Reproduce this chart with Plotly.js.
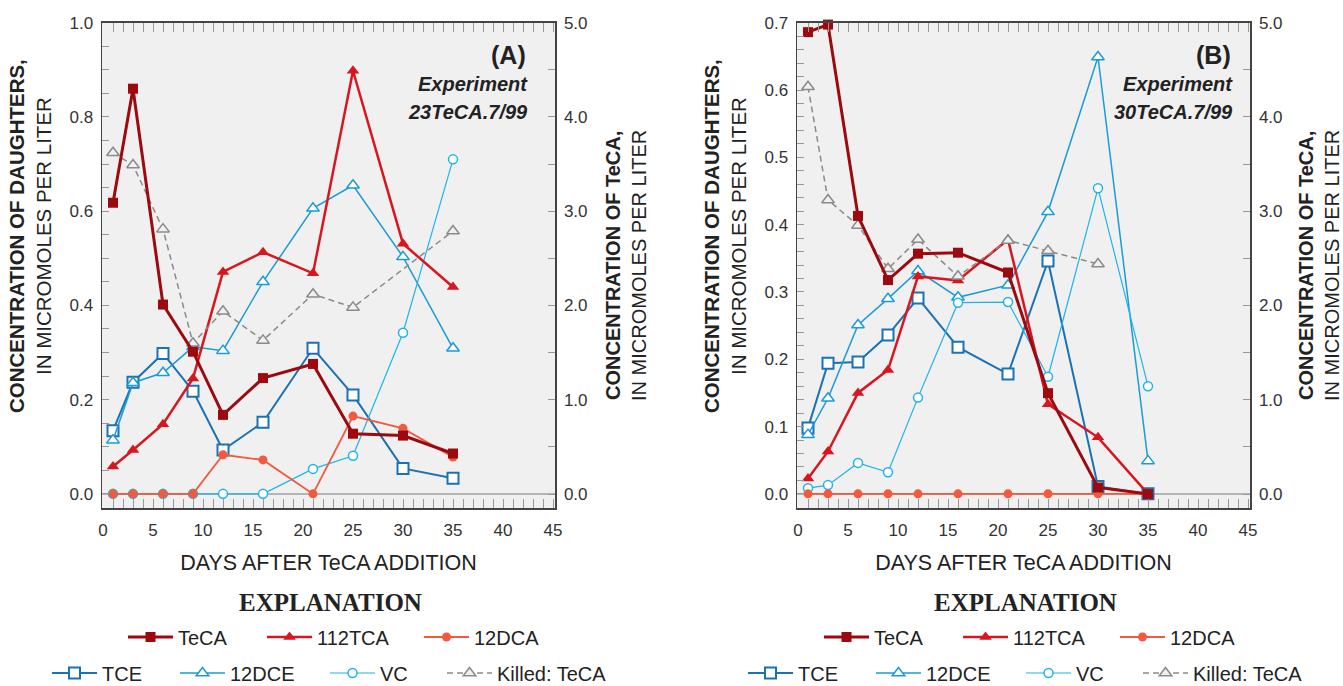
<!DOCTYPE html>
<html>
<head>
<meta charset="utf-8">
<script src="https://cdn.plot.ly/plotly-3.0.1.min.js"></script>
<style>
html,body{margin:0;padding:0;background:#fff;}
#chart{width:1343px;height:686px;}
</style>
</head>
<body>
<div id="chart"></div>
<script>
// ---------- DATA ----------
const days = [1, 3, 6, 9, 12, 16, 21, 25, 30, 35];

// Panel A: Experiment 23TeCA.7/99
const A_TeCA   = [3.09, 4.30, 2.01, 1.51, 0.84, 1.23, 1.38, 0.64, 0.62, 0.43];   // right axis
const A_112TCA = [0.058, 0.093, 0.148, 0.245, 0.471, 0.513, 0.468, 0.898, 0.531, 0.439];
const A_12DCA  = [0, 0, 0, 0, 0.083, 0.072, 0, 0.165, 0.139, 0.078];
const A_TCE    = [0.134, 0.237, 0.298, 0.218, 0.093, 0.152, 0.309, 0.210, 0.054, 0.033];
const A_12DCE  = [0.114, 0.236, 0.257, 0.312, 0.304, 0.450, 0.606, 0.655, 0.503, 0.309];
const A_VC     = [0, 0, 0, 0, 0, 0, 0.053, 0.081, 0.342, 0.710];
const A_Killed = [3.62, 3.49, 2.81, 1.60, 1.94, 1.63, 2.12, 1.98, null, 2.79];   // right axis

// Panel B: Experiment 30TeCA.7/99
const B_TeCA   = [4.90, 4.98, 2.95, 2.27, 2.55, 2.56, 2.35, 1.07, 0.07, 0.0];   // right axis
const B_112TCA = [0.023, 0.063, 0.150, 0.184, 0.323, 0.317, 0.378, 0.133, 0.084, 0.0];
const B_12DCA  = [0, 0, 0, 0, 0, 0, 0, 0, 0, 0];
const B_TCE    = [0.098, 0.194, 0.196, 0.236, 0.291, 0.218, 0.178, 0.346, 0.011, 0.0];
const B_12DCE  = [0.088, 0.142, 0.251, 0.290, 0.331, 0.292, 0.310, 0.419, 0.649, 0.049];
const B_VC     = [0.0085, 0.013, 0.046, 0.032, 0.143, 0.284, 0.285, 0.174, 0.454, 0.160];
const B_Killed = [4.32, 3.12, 2.85, 2.39, 2.70, 2.31, 2.69, 2.58, 2.44, null];   // right axis

const seriesNames = ['TeCA', '112TCA', '12DCA', 'TCE', '12DCE', 'VC', 'Killed: TeCA'];
const xTickVals = [0, 5, 10, 15, 20, 25, 30, 35, 40, 45];

// ---------- STYLES ----------
const FONT = 'Liberation Sans, Arial, Helvetica, sans-serif';
const C = {
  TeCA: '#9c0a10', TCA: '#d8161f', DCA: '#f15a3e',
  TCE: '#1a72b5', DCE: '#1a9bd6', VC: '#1db4ea', K: '#8a8a8a'
};
const W = 1343, H = 686;
const px = v => v / W, py = v => 1 - v / H;

// legend entry placement (x where the label text starts, row centre) per series, panel A; panel B is shifted
const legendSlots = [[178, 637], [317, 637], [474, 637], [102, 673], [230, 673], [380, 673], [497, 673]];
const PANEL_B_SHIFT = 696;
const LEG_ITEMWIDTH = 45;
const LEG_TEXTGAP = LEG_ITEMWIDTH + 10;

function mk(panel, idx, y, yax, opts) {
  const isA = panel === 'A';
  const n = (isA ? 0 : 7) + idx + 1;
  return Object.assign({
    type: 'scatter', mode: 'lines+markers', name: seriesNames[idx], x: days, y: y,
    xaxis: isA ? 'x' : 'x2', yaxis: yax, connectgaps: true, cliponaxis: false,
    legend: n === 1 ? 'legend' : 'legend' + n
  }, opts);
}

function panelTraces(panel, d) {
  const isA = panel === 'A';
  const yL = isA ? 'y' : 'y3', yR = isA ? 'y2' : 'y4';
  return [
    mk(panel, 6, d.K, yR, {
      line: {color: C.K, width: 1.5, dash: '6px,4px'},
      marker: {symbol: 'triangle-up', size: 11, color: '#f0f0f0', line: {color: C.K, width: 1.5}}}),
    mk(panel, 3, d.TCE, yL, {
      line: {color: C.TCE, width: 2},
      marker: {symbol: 'square', size: 11, color: '#ffffff', line: {color: C.TCE, width: 2}}}),
    mk(panel, 4, d.DCE, yL, {
      line: {color: C.DCE, width: 1.5},
      marker: {symbol: 'triangle-up', size: 11, color: '#ffffff', line: {color: C.DCE, width: 1.5}}}),
    mk(panel, 5, d.VC, yL, {
      line: {color: C.VC, width: 1.2},
      marker: {symbol: 'circle', size: 9, color: '#ffffff', line: {color: C.VC, width: 1.5}}}),
    mk(panel, 2, d.DCA, yL, {
      line: {color: C.DCA, width: 1.8},
      marker: {symbol: 'circle', size: 9, color: C.DCA}}),
    mk(panel, 1, d.TCA, yL, {
      line: {color: C.TCA, width: 2.5},
      marker: {symbol: 'triangle-up', size: 11, color: C.TCA}}),
    mk(panel, 0, d.TeCA, yR, {
      line: {color: C.TeCA, width: 3},
      marker: {symbol: 'square', size: 10, color: C.TeCA}})
  ];
}

const traces = [].concat(
  panelTraces('A', {TeCA: A_TeCA, TCA: A_112TCA, DCA: A_12DCA, TCE: A_TCE, DCE: A_12DCE, VC: A_VC, K: A_Killed}),
  panelTraces('B', {TeCA: B_TeCA, TCA: B_112TCA, DCA: B_12DCA, TCE: B_TCE, DCE: B_12DCE, VC: B_VC, K: B_Killed})
);

// ---------- LAYOUT ----------
const domY = [py(508), py(22.7)];
const domA = [px(102), px(555)];
const domB = [px(797), px(1250)];

function xAxis(domain, anchor) {
  return {
    domain: domain, anchor: anchor, range: [-0.1, 45.2],
    tickvals: xTickVals, ticks: 'inside', ticklen: 9, tickwidth: 1, tickcolor: '#999',
    minor: {dtick: 1, tick0: 0, ticks: 'inside', ticklen: 5, tickcolor: '#999', tickwidth: 1},
    showline: true, linecolor: '#444', linewidth: 1.5, mirror: 'allticks',
    showgrid: false, zeroline: false, automargin: false,
    tickfont: {family: FONT, size: 17, color: '#333'}, ticklabelstandoff: 6,
    title: {text: 'DAYS AFTER TeCA ADDITION', font: {family: FONT, size: 21.5, color: '#222'}, standoff: 16}
  };
}
function yLeft(domain, anchor, range, dtick, minorDtick) {
  return {
    domain: domain, anchor: anchor, range: range, dtick: dtick, tick0: 0, tickformat: '.1f',
    ticks: 'inside', ticklen: 7, tickcolor: '#999', tickwidth: 1,
    minor: {dtick: minorDtick, tick0: 0, ticks: 'inside', ticklen: 7, tickcolor: '#999'},
    showline: true, linecolor: '#444', linewidth: 1.5, automargin: false,
    showgrid: false, zeroline: true, zerolinecolor: '#b5b5b5', zerolinewidth: 1.5,
    tickfont: {family: FONT, size: 17, color: '#333'}, ticklabelstandoff: 4
  };
}
function yRight(domain, anchor, overlay) {
  return {
    domain: domain, anchor: anchor, overlaying: overlay, side: 'right',
    range: [-0.148, 5.0], dtick: 1, tick0: 0, tickformat: '.1f',
    ticks: 'inside', ticklen: 7, tickcolor: '#999', tickwidth: 1,
    minor: {dtick: 0.5, tick0: 0, ticks: 'inside', ticklen: 7, tickcolor: '#999'},
    showline: true, linecolor: '#444', linewidth: 1.5, automargin: false,
    showgrid: false, zeroline: false,
    tickfont: {family: FONT, size: 17, color: '#333'}, ticklabelstandoff: 4,
    title: {text: '<b>CONCENTRATION OF TeCA,</b><br>IN MICROMOLES PER LITER',
      font: {family: FONT, size: 20, color: '#222'}, standoff: 19}
  };
}
function legendCfg(x, y) {
  return {
    orientation: 'h', x: x, y: y, xanchor: 'left', yanchor: 'middle',
    bgcolor: 'rgba(0,0,0,0)', borderwidth: 0, font: {family: FONT, size: 20, color: '#222'},
    itemwidth: LEG_ITEMWIDTH, itemclick: false, itemdoubleclick: false
  };
}

function panelNotes(rightX, tag, expName) {
  const base = {xref: 'paper', yref: 'paper', xanchor: 'right', yanchor: 'middle', showarrow: false};
  return [
    Object.assign({x: px(rightX), y: py(55), text: '<b>' + tag + '</b>',
      font: {family: FONT, size: 25, color: '#222'}}, base),
    Object.assign({x: px(rightX + 2), y: py(84), text: '<b><i>Experiment</i></b>',
      font: {family: FONT, size: 20, color: '#222'}}, base),
    Object.assign({x: px(rightX + 2), y: py(112), text: '<b><i>' + expName + '</i></b>',
      font: {family: FONT, size: 20, color: '#222'}}, base)
  ];
}
function leftTitle(xc) {
  return {xref: 'paper', yref: 'paper', x: px(xc), y: py(236), xanchor: 'center', yanchor: 'middle',
    textangle: -90, showarrow: false,
    text: '<b>CONCENTRATION OF DAUGHTERS,</b><br>IN MICROMOLES PER LITER',
    font: {family: FONT, size: 20.5, color: '#222'}};
}
function explanation(xc) {
  return {xref: 'paper', yref: 'paper', x: px(xc), y: py(602), xanchor: 'center', yanchor: 'middle',
    showarrow: false, text: '<b>EXPLANATION</b>',
    font: {family: 'Liberation Serif, Times New Roman, serif', size: 25, color: '#222'}};
}

const layout = {
  width: W, height: H, margin: {l: 0, r: 0, t: 0, b: 0, autoexpand: false},
  paper_bgcolor: '#ffffff', plot_bgcolor: '#f0f0f0',
  showlegend: true,
  xaxis: xAxis(domA, 'y'),
  yaxis: yLeft(domY, 'x', [-0.03, 1.0], 0.2, 0.05),
  yaxis2: yRight(domY, 'x', 'y'),
  xaxis2: xAxis(domB, 'y3'),
  yaxis3: yLeft(domY, 'x2', [-0.021, 0.7], 0.1, 0.02),
  yaxis4: yRight(domY, 'x2', 'y3'),
  annotations: [].concat(
    panelNotes(528, '(A)', '23TeCA.7/99'),
    panelNotes(1233, '(B)', '30TeCA.7/99'),
    [leftTitle(30), leftTitle(725), explanation(330), explanation(1025)]
  )
};
// one legend per entry so each sits where it does in the original explanation
for (let p = 0; p < 2; p++) {
  legendSlots.forEach((s, i) => {
    const n = p * 7 + i + 1;
    const key = n === 1 ? 'legend' : 'legend' + n;
    layout[key] = legendCfg(px(s[0] + p * PANEL_B_SHIFT - LEG_TEXTGAP), py(s[1]));
  });
}

Plotly.newPlot('chart', traces, layout, {displayModeBar: false, staticPlot: true});
</script>
</body>
</html>
